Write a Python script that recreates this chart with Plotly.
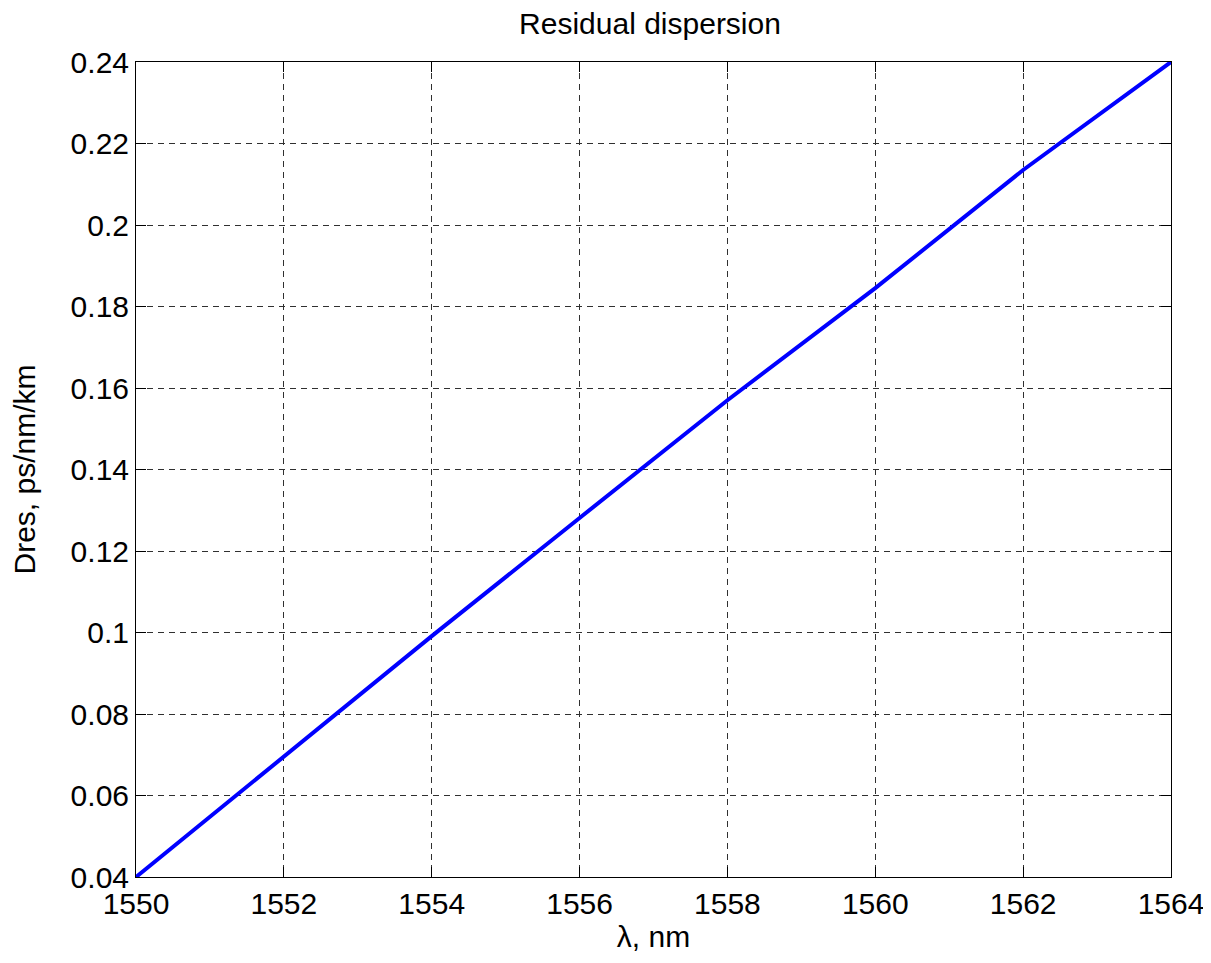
import plotly.graph_objects as go

# Data
wavelength_nm = [1550, 1552, 1554, 1556, 1558, 1560, 1562, 1564]
dres = [0.040, 0.0697, 0.0991, 0.1281, 0.1570, 0.1845, 0.2135, 0.240]

x_tick_vals = [1550, 1552, 1554, 1556, 1558, 1560, 1562, 1564]
x_tick_text = ["1550", "1552", "1554", "1556", "1558", "1560", "1562", "1564"]
y_tick_vals = [0.04, 0.06, 0.08, 0.10, 0.12, 0.14, 0.16, 0.18, 0.20, 0.22, 0.24]
y_tick_text = ["0.04", "0.06", "0.08", "0.1", "0.12", "0.14", "0.16", "0.18", "0.2", "0.22", "0.24"]

FONT = "Liberation Sans, Arial, Helvetica, sans-serif"
FS = 30

axis_common = dict(
    showline=True, linecolor="black", linewidth=1, mirror="ticks",
    ticks="inside", ticklen=10, tickcolor="black", tickwidth=1,
    showgrid=True, gridcolor="#303030", gridwidth=1, griddash="6px,5px",
    zeroline=False, tickfont=dict(family=FONT, size=FS, color="black"),
    automargin=False,
)

fig = go.Figure()
fig.add_trace(go.Scatter(x=wavelength_nm, y=dres, mode="lines",
                         line=dict(color="#0000FF", width=4), showlegend=False))

W, H = 1203, 955
fig.update_layout(
    width=W, height=H,
    paper_bgcolor="white", plot_bgcolor="white",
    margin=dict(l=128, r=40, t=54, b=86),
    title=dict(text="Residual dispersion", x=642 / W, xanchor="center",
               y=1 - 15 / H, yanchor="middle",
               font=dict(family=FONT, size=FS, color="black")),
    xaxis=dict(range=[1550, 1564], tickvals=x_tick_vals, ticktext=x_tick_text,
               title=dict(text="λ, nm", font=dict(family=FONT, size=FS, color="black"),
                          standoff=6),
               **axis_common),
    yaxis=dict(range=[0.04, 0.24], tickvals=y_tick_vals, ticktext=y_tick_text,
               title=dict(text="Dres, ps/nm/km", font=dict(family=FONT, size=FS, color="black"),
                          standoff=30),
               **axis_common),
)

fig.write_html("out.html")
